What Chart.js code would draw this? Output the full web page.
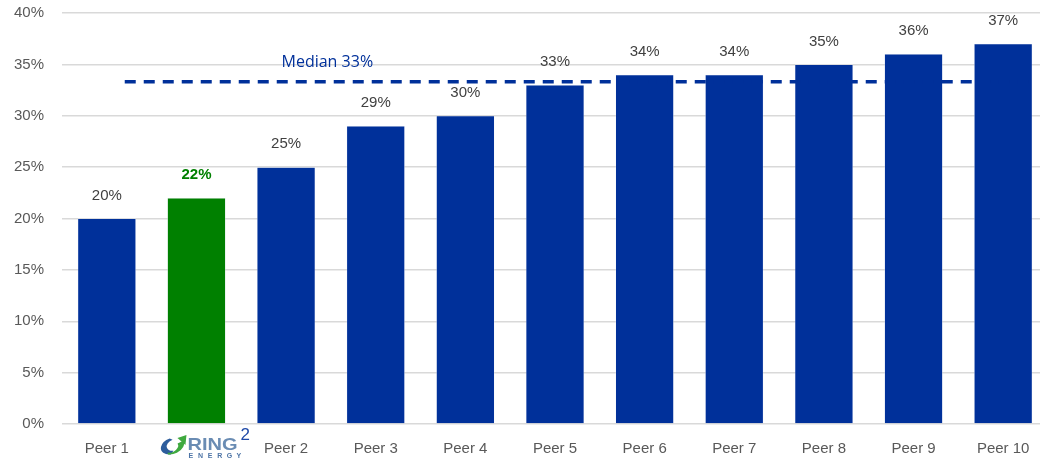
<!DOCTYPE html>
<html>
<head>
<meta charset="utf-8">
<script src="https://cdn.jsdelivr.net/npm/chart.js@4.4.0/dist/chart.umd.min.js"></script>
<style>
  html, body { margin: 0; padding: 0; background: #fff; overflow: hidden; }
  #wrap { width: 1050px; height: 459px; position: relative; }
</style>
</head>
<body>
<div id="wrap"><canvas id="barChart"></canvas></div>
<script>
"use strict";

// chart data
var labels = ["Peer 1", "Ring Energy", "Peer 2", "Peer 3", "Peer 4", "Peer 5", "Peer 6", "Peer 7", "Peer 8", "Peer 9", "Peer 10"];
var values = [20, 22, 25, 29, 30, 33, 34, 34, 35, 36, 37];
var colors = ["#00309a", "#008000", "#00309a", "#00309a", "#00309a", "#00309a", "#00309a", "#00309a", "#00309a", "#00309a", "#00309a"];
var median = 33.3;
var medianSpan = [0.2, 10.3];
var highlight = 1;

// value labels above each bar
var valueLabels = {
  id: 'valueLabels',
  afterDatasetsDraw: function (chart) {
    var ctx = chart.ctx;
    var meta = chart.getDatasetMeta(0);
    ctx.save();
    ctx.textAlign = 'center';
    ctx.textBaseline = 'middle';
    meta.data.forEach(function (bar, i) {
      if (i == highlight) {
        ctx.font = 'bold 15px "Liberation Sans"';
        ctx.fillStyle = '#008000';
      } else {
        ctx.font = '15px "Liberation Sans"';
        ctx.fillStyle = '#404040';
      }
      ctx.fillText(values[i] + '%', bar.x, bar.y - 23);
    });

    // median caption
    var xs = chart.scales.x2;
    var ys = chart.scales.y;
    ctx.font = '16px "Open Sans"';
    ctx.fillStyle = '#00309a';
    ctx.fillText('Median ' + Math.round(median) + '%', xs.getPixelForValue(2.46), ys.getPixelForValue(median) - 19);
    ctx.restore();
  }
};

// company logo in place of the second tick label
var logoTick = {
  id: 'logoTick',
  afterDraw: function (chart) {
    var ctx = chart.ctx;
    var cx = chart.scales.x.getPixelForTick(highlight);
    var top = chart.scales.y.bottom;
    ctx.save();

    // swoosh icon: blue crescent on the left, green one sweeping up to an arrow
    var ix = cx - 24, iy = top + 22;
    ctx.fillStyle = '#2d5d9c';
    ctx.beginPath();
    ctx.ellipse(ix, iy, 12, 8, -0.35, Math.PI * 0.62, Math.PI * 1.5, false);
    ctx.ellipse(ix + 2, iy - 1, 8, 5.5, -0.35, Math.PI * 1.5, Math.PI * 0.62, true);
    ctx.closePath();
    ctx.fill();
    ctx.fillStyle = '#3fa93f';
    ctx.beginPath();
    ctx.ellipse(ix, iy, 12, 8, -0.35, Math.PI * 1.95, Math.PI * 0.7, false);
    ctx.ellipse(ix - 2, iy + 1, 8, 5.5, -0.35, Math.PI * 0.7, Math.PI * 1.95, true);
    ctx.closePath();
    ctx.fill();
    ctx.beginPath();
    ctx.moveTo(ix + 14, iy - 11);
    ctx.lineTo(ix + 5, iy - 8);
    ctx.lineTo(ix + 13, iy - 1);
    ctx.closePath();
    ctx.fill();

    // RING wordmark
    var grad = ctx.createLinearGradient(0, top + 13, 0, top + 27);
    grad.addColorStop(0, '#6a8cb3');
    grad.addColorStop(1, '#24518f');
    ctx.fillStyle = grad;
    ctx.font = 'bold 17px "Liberation Sans"';
    ctx.textAlign = 'left';
    ctx.textBaseline = 'alphabetic';
    ctx.save();
    ctx.translate(cx - 9, top + 26);
    ctx.scale(1.18, 1);
    ctx.fillText('RING', 0, 0);
    ctx.restore();
    ctx.fillStyle = '#1f49a8';
    ctx.font = '17px "Liberation Sans"';
    ctx.fillText('2', cx + 44, top + 16);

    // ENERGY
    ctx.fillStyle = '#4d74a6';
    ctx.font = 'bold 7px "Liberation Sans"';
    var word = 'ENERGY';
    for (var k = 0; k < word.length; k++) {
      ctx.fillText(word[k], cx - 8 + k * 9.6, top + 34);
    }
    ctx.restore();
  }
};

var ctx = document.getElementById("barChart").getContext('2d');
var myChart = new Chart(ctx, {
  data: {
    labels: labels,
    datasets: [{
      type: 'bar',
      data: values,
      backgroundColor: colors,
      borderColor: '#e8ecf5',
      borderWidth: 0.5,
      barPercentage: 0.65,
      categoryPercentage: 1,
      grouped: false,
      order: 2
    }, {
      type: 'line',
      xAxisID: 'x2',
      data: [{ x: medianSpan[0], y: median }, { x: medianSpan[1], y: median }],
      borderColor: '#00309a',
      borderWidth: 3.5,
      borderDash: [11, 8],
      pointRadius: 0,
      fill: false,
      order: 1
    }]
  },
  options: {
    responsive: true,
    maintainAspectRatio: false,
    animation: false,
    layout: { padding: { top: 13, right: 2 } },
    plugins: {
      legend: { display: false },
      tooltip: { enabled: false }
    },
    scales: {
      x: {
        grid: { display: false },
        border: { display: false },
        ticks: {
          color: '#595959',
          font: { family: '"Liberation Sans"', size: 15 },
          padding: 8,
          callback: function (v, i) { return i == highlight ? '' : labels[i]; }
        },
        afterFit: function (scale) { scale.height = 35; }
      },
      x2: {
        type: 'linear',
        display: false,
        min: -0.5,
        max: 10.5
      },
      y: {
        min: 0,
        max: 40,
        grid: { color: '#d9d9d9', lineWidth: 1.5, drawTicks: false },
        border: { display: false },
        ticks: {
          stepSize: 5,
          color: '#595959',
          font: { family: '"Liberation Sans"', size: 15 },
          padding: 18,
          callback: function (v) { return v + '%'; }
        },
        afterFit: function (scale) {
          scale.width = 62;
          scale.paddingTop = 0;
          scale.paddingBottom = 0;
        }
      }
    }
  },
  plugins: [valueLabels, logoTick]
});
</script>
</body>
</html>
